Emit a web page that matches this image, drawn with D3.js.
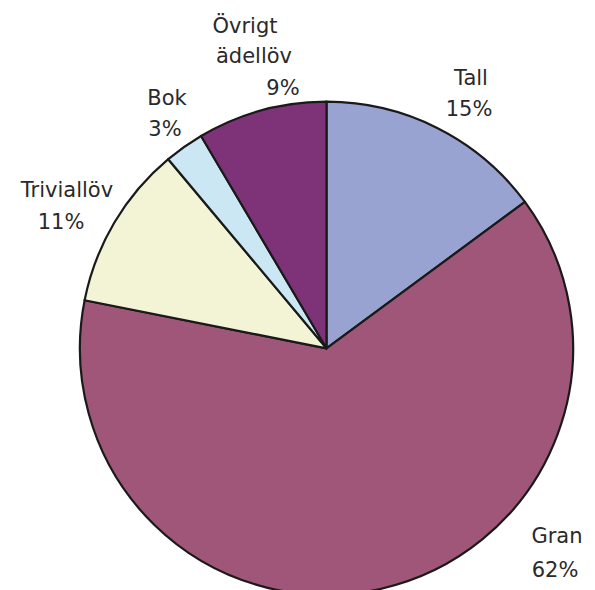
<!DOCTYPE html>
<html>
<head>
<meta charset="utf-8">
<script src="https://cdn.jsdelivr.net/npm/d3@7"></script>
<style>
  html, body { margin: 0; padding: 0; background: #fff; }
  svg { display: block; }
</style>
</head>
<body>
<svg id="chart" width="595" height="590"></svg>
<script>
// ---- data ----
const categories = ["Tall", "Gran", "Triviallöv", "Bok", "Övrigt ädellöv"];
const values = [14.9, 63.3, 10.8, 2.6, 8.5];
const shownPercent = ["15%", "62%", "11%", "3%", "9%"];
const colors = ["#99A3D1", "#9F5679", "#F3F3D6", "#CBE7F3", "#7E3379"];

// ---- layout (label line centres relative to pie centre) ----
const cx = 326.5, cy = 348.3, radius = 246.6;
const labelLines = [
  [[144.5, -263], [142.5, -232]],
  [[230.5, 195], [228.5, 229]],
  [[-259.5, -151], [-265.5, -119]],
  [[-159.5, -243], [-161.5, -212]],
  [[-81.5, -315], [-72.5, -285], [-43.5, -253]]
];

const svg = d3.select("#chart");
const g = svg.append("g").attr("transform", `translate(${cx},${cy})`);

const pie = d3.pie().sort(null).value(d => d.value);
const arc = d3.arc().innerRadius(0).outerRadius(radius);
const data = categories.map((c, i) => ({ name: c, value: values[i], pct: shownPercent[i], color: colors[i], lines: labelLines[i] }));

g.selectAll("path.slice")
  .data(pie(data))
  .join("path")
  .attr("class", "slice")
  .attr("d", arc)
  .attr("fill", d => d.data.color)
  .attr("stroke", "#1a1a1a")
  .attr("stroke-width", 2.2)
  .attr("stroke-linejoin", "round");

const labels = g.selectAll("g.label")
  .data(data)
  .join("g")
  .attr("class", "label");

labels.each(function(d) {
  const texts = d.name.split(" ").concat([d.pct]);
  d3.select(this).selectAll("text")
    .data(texts.map((t, j) => ({ t, p: d.lines[j] })))
    .join("text")
    .attr("x", e => e.p[0])
    .attr("y", e => e.p[1])
    .attr("text-anchor", "middle")
    .attr("font-family", "'DejaVu Sans', sans-serif")
    .attr("font-size", 21)
    .attr("fill", "#2a2a2a")
    .text(e => e.t);
});
</script>
</body>
</html>
